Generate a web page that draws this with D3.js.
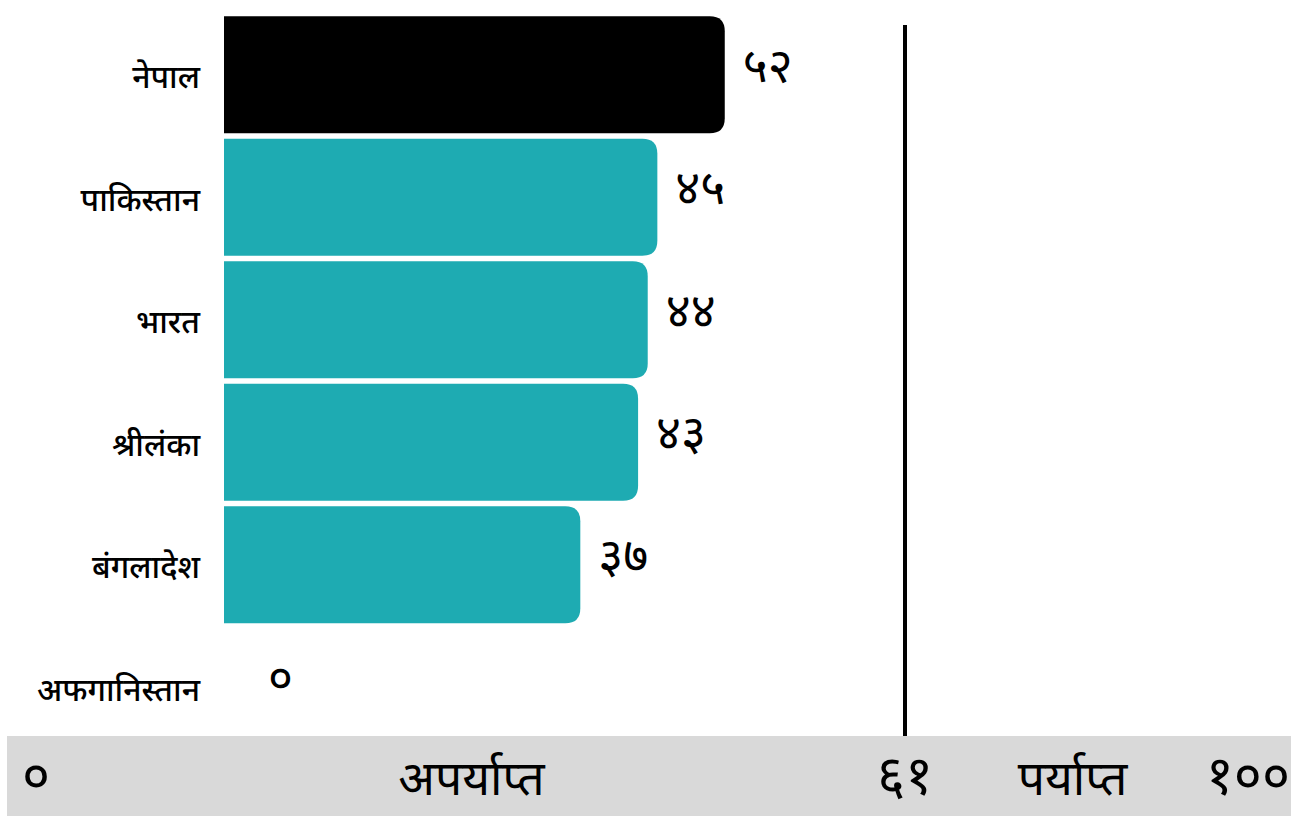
<!DOCTYPE html>
<html>
<head>
<meta charset="utf-8">
<script src="https://cdnjs.cloudflare.com/ajax/libs/d3/7.8.5/d3.min.js"></script>
<style>
  html, body { margin: 0; padding: 0; background: #fff; }
  svg { display: block; font-family: "Noto Sans Devanagari", "Noto Sans", sans-serif; }
</style>
</head>
<body>
<svg id="chart"></svg>
<script>
// data
var countries = ["नेपाल", "पाकिस्तान", "भारत", "श्रीलंका", "बंगलादेश", "अफगानिस्तान"];
var scores = [52, 45, 44, 43, 37, 0];
var scoreLabels = ["५२", "४५", "४४", "४३", "३७", "०"];
var highlight = "नेपाल";

var threshold = 61;
var bandTicks = [0, 61, 100];
var bandTickLabels = ["०", "६१", "१००"];
var zoneLabels = ["अपर्याप्त", "पर्याप्त"];

var width = 1291, height = 816;

var svg = d3.select("#chart")
    .attr("width", width)
    .attr("height", height);

var x = d3.scaleLinear().domain([0, 100]).range([224, 1187]);
var y = d3.scaleBand().domain(countries).range([15, 747]).paddingInner(0.045).paddingOuter(0.01);

// the bottom strip is not on the same scale as the bars
var band = d3.scaleLinear().domain(bandTicks).range([22, 905, 1290]);

var rows = countries.map(function(c, i) {
    return { name: c, value: scores[i], label: scoreLabels[i] };
});

var r = 15;
function barPath(d) {
    var x0 = x(0), x1 = x(d.value), y0 = y(d.name), h = y.bandwidth();
    var rr = Math.min(r, x1 - x0);
    if (x1 - x0 <= 0) return "";
    return "M" + x0 + "," + y0 +
        "H" + (x1 - rr) +
        "Q" + x1 + "," + y0 + " " + x1 + "," + (y0 + rr) +
        "V" + (y0 + h - rr) +
        "Q" + x1 + "," + (y0 + h) + " " + (x1 - rr) + "," + (y0 + h) +
        "H" + x0 + "Z";
}

svg.append("g")
    .selectAll("path")
    .data(rows)
    .enter().append("path")
    .attr("d", barPath)
    .attr("fill", function(d) { return d.name == highlight ? "#000000" : "#1eabb2"; });

// country names
svg.append("g")
    .selectAll("text")
    .data(rows)
    .enter().append("text")
    .attr("x", 200)
    .attr("y", function(d) { return y(d.name) + y.bandwidth() / 2; })
    .attr("dy", "0.42em")
    .attr("text-anchor", "end")
    .attr("font-size", 32)
    .attr("font-weight", 500)
    .text(function(d) { return d.name; });

// value labels
svg.append("g")
    .selectAll("text")
    .data(rows)
    .enter().append("text")
    .attr("x", function(d) { return x(d.value) + (d.value ? 18 : 44); })
    .attr("y", function(d) { return y(d.name) + y.bandwidth() / 2; })
    .attr("dy", "0.15em")
    .attr("font-size", 48)
    .text(function(d) { return d.label; });

// bottom strip
svg.append("rect")
    .attr("x", 7)
    .attr("y", 736)
    .attr("width", width - 7)
    .attr("height", height - 736)
    .attr("fill", "#d9d9d9");

svg.append("g")
    .selectAll("text")
    .data(bandTicks)
    .enter().append("text")
    .attr("x", function(d) { return band(d); })
    .attr("y", 778)
    .attr("dy", "0.3em")
    .attr("text-anchor", function(d, i) { return i == 0 ? "start" : (i == bandTicks.length - 1 ? "end" : "middle"); })
    .attr("font-size", 54)
    .text(function(d, i) { return bandTickLabels[i]; });

svg.append("g")
    .selectAll("text")
    .data(zoneLabels)
    .enter().append("text")
    .attr("x", function(d, i) { return band((bandTicks[i] + bandTicks[i + 1]) / 2) - (i ? 25 : -8); })
    .attr("y", 778)
    .attr("dy", "0.35em")
    .attr("text-anchor", "middle")
    .attr("font-size", 48)
    .text(function(d) { return d; });

// threshold line
svg.append("line")
    .attr("x1", band(threshold))
    .attr("x2", band(threshold))
    .attr("y1", 25)
    .attr("y2", 736)
    .attr("stroke", "#000")
    .attr("stroke-width", 4);
</script>
</body>
</html>
